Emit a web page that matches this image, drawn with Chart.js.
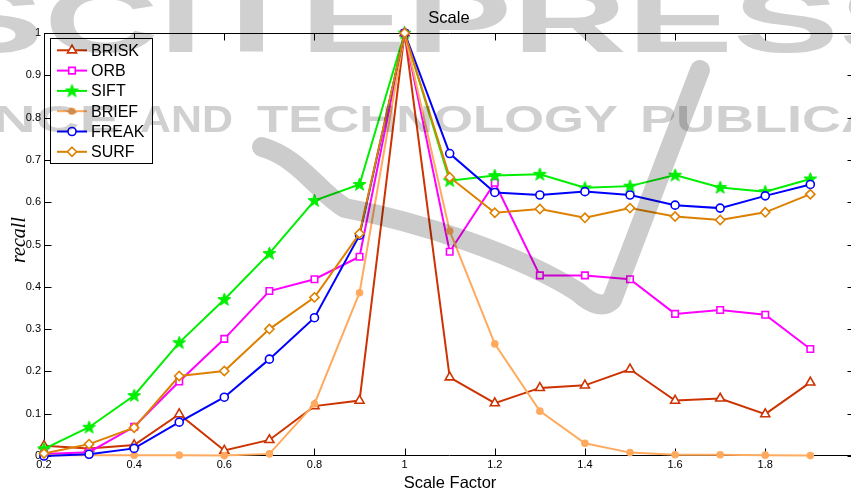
<!DOCTYPE html>
<html>
<head>
<meta charset="utf-8">
<script src="https://cdn.jsdelivr.net/npm/chart.js@4/dist/chart.umd.min.js"></script>
<style>
html,body{margin:0;padding:0;background:#fff;overflow:hidden;width:851px;height:490px;}
#wrap{position:absolute;left:0;top:0;width:863px;height:490px;}
</style>
</head>
<body>
<div id="wrap"><canvas id="c" width="863" height="490"></canvas></div>
<script>
// ---- data ----
const xValues = [0.2,0.3,0.4,0.5,0.6,0.7,0.8,0.9,1.0,1.1,1.2,1.3,1.4,1.5,1.6,1.7,1.8,1.9];
const briskValues = [0.024,0.018,0.026,0.099,0.013,0.038,0.118,0.131,1.0,0.186,0.125,0.161,0.167,0.205,0.131,0.136,0.099,0.174];
const orbValues   = [0.005,0.009,0.069,0.176,0.277,0.390,0.418,0.471,1.0,0.483,0.646,0.427,0.427,0.418,0.336,0.345,0.334,0.253];
const siftValues  = [0.017,0.068,0.143,0.268,0.370,0.479,0.604,0.642,1.0,0.651,0.663,0.666,0.634,0.638,0.664,0.635,0.625,0.655];
const briefValues = [0.002,0.002,0.002,0.002,0.001,0.005,0.123,0.386,1.0,0.532,0.265,0.106,0.030,0.008,0.003,0.003,0.002,0.001];
const freakValues = [0.000,0.004,0.018,0.080,0.139,0.229,0.327,0.522,1.0,0.715,0.623,0.617,0.625,0.617,0.593,0.586,0.615,0.642];
const surfValues  = [0.006,0.028,0.067,0.189,0.201,0.300,0.375,0.526,1.0,0.659,0.575,0.584,0.563,0.586,0.566,0.558,0.576,0.619];
const seriesNames = ['BRISK','ORB','SIFT','BRIEF','FREAK','SURF'];
const xTickValues = [0.2,0.4,0.6,0.8,1.0,1.2,1.4,1.6,1.8,2.0];
const yTickValues = [0,0.1,0.2,0.3,0.4,0.5,0.6,0.7,0.8,0.9,1.0];
const chartTitle = 'Scale';
const xAxisTitle = 'Scale Factor';
const yAxisTitle = 'recall';

// ---- styles ----
function makeStar(color){
  const c = document.createElement('canvas');
  c.width = 15; c.height = 15;
  const g = c.getContext('2d');
  g.fillStyle = color; g.strokeStyle = color; g.lineWidth = 1;
  g.beginPath();
  for(let i=0;i<10;i++){
    const r = (i%2===0)?6.8:2.8;
    const a = -Math.PI/2 + i*Math.PI/5;
    const px = 7.5 + r*Math.cos(a), py = 7.8 + r*Math.sin(a);
    if(i===0) g.moveTo(px,py); else g.lineTo(px,py);
  }
  g.closePath(); g.fill(); g.stroke();
  return c;
}
const starImg = makeStar('#00ee00');
const styles = [
  {color:'#cc3300', point:'triangle', radius:5.2, fill:'#ffffff', order:5},
  {color:'#ff00ff', point:'rect', radius:4.6, fill:'#ffffff', order:4},
  {color:'#00ee00', point:starImg, radius:6, fill:'#00ee00', order:3},
  {color:'#ffaa5e', point:'circle', radius:3, fill:'#ffaa5e', order:2},
  {color:'#0000ff', point:'circle', radius:4, fill:'#ffffff', order:1},
  {color:'#dd8000', point:'rectRot', radius:4.6, fill:'#ffffff', order:0}
];
const seriesValues = [briskValues, orbValues, siftValues, briefValues, freakValues, surfValues];

const datasets = seriesNames.map((name,i)=>({
  label: name,
  data: xValues.map((x,j)=>({x:x, y:seriesValues[i][j]})),
  borderColor: styles[i].color,
  backgroundColor: styles[i].fill,
  pointStyle: styles[i].point,
  pointRadius: styles[i].radius,
  pointBorderWidth: 1.6,
  pointBorderColor: styles[i].color,
  pointBackgroundColor: styles[i].fill,
  borderWidth: 2,
  tension: 0,
  order: styles[i].order,
  clip: false
}));

const FONT = '"Liberation Sans", Arial, Helvetica, sans-serif';

function fmt(v){ return String(Math.round(v*10)/10); }

// frame and inner ticks (MATLAB style)
const framePlugin = {
  id:'frame',
  beforeDatasetsDraw(chart){
    const {ctx, chartArea:a, scales} = chart;
    ctx.save();
    ctx.strokeStyle = '#000'; ctx.lineWidth = 1;
    const L = Math.round(a.left)+0.5, R = Math.round(a.right)-0.5, T = Math.round(a.top)+0.5, B = Math.round(a.bottom)-0.5;
    ctx.beginPath();
    ctx.rect(L, T, R-L, B-T);
    ctx.stroke();
    const tl = 7;
    ctx.beginPath();
    xTickValues.forEach(v=>{
      const px = Math.round(scales.x.getPixelForValue(v))+0.5;
      ctx.moveTo(px,B); ctx.lineTo(px,B-tl);
      ctx.moveTo(px,T); ctx.lineTo(px,T+tl);
    });
    yTickValues.forEach(v=>{
      const py = Math.round(scales.y.getPixelForValue(v))+0.5;
      ctx.moveTo(L,py); ctx.lineTo(L+tl,py);
      ctx.moveTo(R,py); ctx.lineTo(R-tl,py);
    });
    ctx.stroke();
    ctx.restore();
  }
};

function drawMarker(ctx, st, x, y){
  ctx.save();
  ctx.strokeStyle = st.color; ctx.fillStyle = st.fill; ctx.lineWidth = 1.6;
  const r = st.radius;
  if(typeof st.point !== 'string'){
    ctx.drawImage(st.point, x - st.point.width/2, y - st.point.height/2);
    ctx.restore(); return;
  }
  ctx.beginPath();
  if(st.point==='triangle'){
    for(let k=0;k<3;k++){
      const a = -Math.PI/2 + k*2*Math.PI/3;
      const px = x + r*Math.cos(a), py = y + r*Math.sin(a);
      if(k===0) ctx.moveTo(px,py); else ctx.lineTo(px,py);
    }
    ctx.closePath();
  } else if(st.point==='rect'){
    const s = r*Math.SQRT1_2;
    ctx.rect(x-s,y-s,2*s,2*s);
  } else if(st.point==='rectRot'){
    ctx.moveTo(x,y-r); ctx.lineTo(x+r,y); ctx.lineTo(x,y+r); ctx.lineTo(x-r,y); ctx.closePath();
  } else {
    ctx.arc(x,y,r,0,Math.PI*2);
  }
  ctx.fill(); ctx.stroke();
  ctx.restore();
}

const legendPlugin = {
  id:'matlabLegend',
  afterDatasetsDraw(chart){
    const ctx = chart.ctx;
    ctx.save();
    const bx = 50.5, by = 38.5, bw = 102, bh = 125;
    ctx.fillStyle = '#fff'; ctx.fillRect(bx,by,bw,bh);
    ctx.strokeStyle = '#000'; ctx.lineWidth = 1; ctx.strokeRect(bx,by,bw,bh);
    ctx.font = '16px ' + FONT;
    ctx.textBaseline = 'middle'; ctx.textAlign = 'left';
    seriesNames.forEach((name,i)=>{
      const y = 50.3 + i*20.3;
      const st = styles[i];
      ctx.strokeStyle = st.color; ctx.lineWidth = 2;
      ctx.beginPath(); ctx.moveTo(57,y); ctx.lineTo(87,y); ctx.stroke();
      drawMarker(ctx, st, 72, y);
      ctx.fillStyle = '#000';
      ctx.fillText(name, 91, y+1);
    });
    ctx.restore();
  }
};

const textPlugin = {
  id:'texts',
  afterDraw(chart){
    const ctx = chart.ctx;
    ctx.save();
    ctx.fillStyle = '#000';
    ctx.textAlign = 'center'; ctx.textBaseline = 'alphabetic';
    ctx.font = '16.5px ' + FONT;
    ctx.fillText(chartTitle, 449, 23);
    ctx.fillText(xAxisTitle, 450, 488);
    ctx.translate(25, 240);
    ctx.rotate(-Math.PI/2);
    ctx.font = 'italic 20px "Liberation Serif", "DejaVu Serif", serif';
    ctx.fillText(yAxisTitle, 0, 0);
    ctx.restore();
  }
};

function stretched(ctx, text, x0, x1, base){
  const w = ctx.measureText(text).width;
  ctx.save();
  ctx.translate(x0, base);
  ctx.scale((x1-x0)/w, 1);
  ctx.fillText(text, 0, 0);
  ctx.restore();
}
const watermarkPlugin = {
  id:'watermark',
  afterDraw(chart){
    const ctx = chart.ctx;
    ctx.save();
    ctx.globalCompositeOperation = 'multiply';
    ctx.fillStyle = '#d0d0d0'; ctx.strokeStyle = '#cccccc';
    ctx.textAlign = 'left'; ctx.textBaseline = 'alphabetic';
    ctx.font = 'bold 90px ' + FONT;
    stretched(ctx, 'SCITEPRESS', -62, 945, 52);
    ctx.font = 'bold 36px ' + FONT;
    stretched(ctx, 'NCE', -8, 120, 132);
    stretched(ctx, 'AND', 140, 233, 132);
    stretched(ctx, 'TECHNOLOGY', 257, 618, 132);
    stretched(ctx, 'PUBLICA', 640, 880, 132);
    ctx.lineWidth = 20; ctx.lineCap = 'round'; ctx.lineJoin = 'round';
    ctx.beginPath();
    ctx.moveTo(262,147);
    ctx.bezierCurveTo(300,158, 318,192, 345,208);
    ctx.bezierCurveTo(420,222, 520,255, 578,292);
    ctx.quadraticCurveTo(600,312, 612,300);
    ctx.lineTo(700,70);
    ctx.stroke();
    ctx.restore();
  }
};

new Chart(document.getElementById('c'), {
  type:'line',
  data:{datasets},
  options:{
    responsive:false,
    animation:false,
    devicePixelRatio:1,
    layout:{padding:{top:33,right:0,left:0,bottom:0}},
    plugins:{legend:{display:false}, title:{display:false}, tooltip:{enabled:false}},
    scales:{
      x:{
        type:'linear', min:0.2, max:2.0,
        grid:{display:false, drawTicks:false},
        border:{display:false},
        afterBuildTicks(s){ s.ticks = xTickValues.map(v=>({value:v})); },
        afterFit(s){ s.height = 34; s.paddingLeft = 0; s.paddingRight = 0; },
        ticks:{autoSkip:false, maxRotation:0, padding:2, color:'#000', font:{family:FONT, size:11}, callback:(v)=>fmt(v)}
      },
      y:{
        type:'linear', min:0, max:1,
        grid:{display:false, drawTicks:false},
        border:{display:false},
        afterBuildTicks(s){ s.ticks = yTickValues.map(v=>({value:v})); },
        afterFit(s){ s.width = 44; s.paddingTop = 0; s.paddingBottom = 0; },
        ticks:{autoSkip:false, padding:3, color:'#000', font:{family:FONT, size:11}, callback:(v)=>fmt(v)}
      }
    }
  },
  plugins:[framePlugin, legendPlugin, textPlugin, watermarkPlugin]
});
</script>
</body>
</html>
